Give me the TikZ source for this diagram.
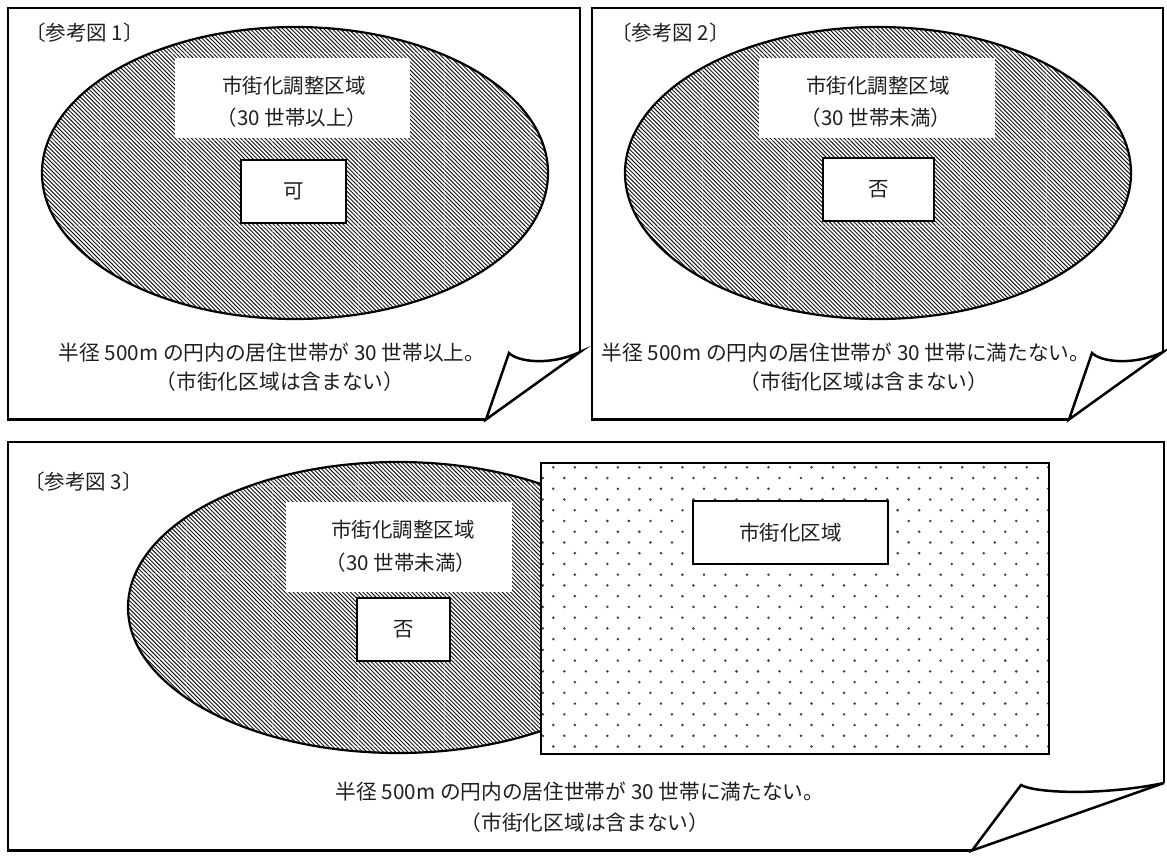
\documentclass[tikz,border=0pt]{standalone}
\usepackage{fontspec}
\setmainfont{Noto Sans CJK JP}
\newcommand\hatchellipse[4]{%
  \begin{scope}
    \clip (#1,#2) ellipse [x radius=#3pt, y radius=#4pt];
    \fill[white] (#1,#2) ellipse [x radius=#3pt, y radius=#4pt];
    \pgfmathtruncatemacro\hn{(2*#3+2*#4)/4.1+3}
    \foreach \k in {0,...,\hn} {\draw[hatchline] ({#1-#3-2*#4+\k*4.1-4},{#2-#4-2}) -- ++({2*#4+4},{2*#4+4});}
    \foreach \gx in {14,100,...,1160} {\draw[seam] (\gx,{#2-#4}) -- (\gx,{#2+#4});}
    \foreach \gy in {54,140.5,...,830} {\draw[seam] ({#1-#3},\gy) -- ({#1+#3},\gy);}
  \end{scope}
  \draw[ell] (#1,#2) ellipse [x radius=#3pt, y radius=#4pt];
}
\begin{document}
\begin{tikzpicture}[x=1pt,y=-1pt,
  frame/.style={line width=2.8pt, line join=miter, line cap=butt},
  curl/.style={line width=2.5pt, line join=miter},
  ell/.style={line width=2.2pt},
  hatchline/.style={line width=0.95pt, black!90},
  seam/.style={white, opacity=0.3, line width=1pt},
  wbox/.style={fill=white, draw=none, inner sep=0pt},
  sbox/.style={draw=black, line width=1.3pt, fill=white, inner sep=0pt},
  btxt/.style={font=\fontsize{20.5}{24}\selectfont, text=black!88, inner sep=0pt},
  ltxt/.style={font=\fontsize{20.7}{26}\selectfont, text=black!88, inner sep=0pt},
  dotc/.style={fill=black!75}]
\useasboundingbox (0,0) rectangle (1167,861);
\fill[white] (0,0) rectangle (1167,861);

% ---------- Panel 1 ----------
\hatchellipse{295}{173}{253}{146}
\node[wbox, minimum width=235pt, minimum height=80pt] (p1wb) at (292.5,98) {};
\node[btxt] (p1l1) at (294,86) {市街化調整区域};
\node[btxt] (p1l2) at (292,118) {（30 世帯以上）};
\node[sbox, minimum width=105pt, minimum height=63pt, btxt] (p1ok) at (293.5,191.5) {可};
\node[btxt, anchor=west] (p1t) at (25,33) {〔参考図 1〕};
\node[ltxt] (p1b1) at (272,353) {半径 500m の円内の居住世帯が 30 世帯以上。};
\node[ltxt] (p1b2) at (280,382) {（市街化区域は含まない）};
\coordinate (p1bl) at (486,419.5);
\coordinate (p1cr) at (580,352);
\coordinate (p1tip) at (509,353);
\draw[frame] (p1bl) -- (8,419.5) -- (8,8) -- (580,8) -- (p1cr);
\draw[curl] (p1cr) .. controls (550,366) and (518,362) .. (p1tip) -- (p1bl) -- cycle;

% ---------- Panel 2 ----------
\hatchellipse{878}{173}{253}{146}
\node[wbox, minimum width=236pt, minimum height=80pt] (p2wb) at (877,98) {};
\node[btxt] (p2l1) at (878,86) {市街化調整区域};
\node[btxt] (p2l2) at (876,118) {（30 世帯未満）};
\node[sbox, minimum width=111pt, minimum height=63pt, btxt] (p2ng) at (878.5,189.5) {否};
\node[btxt, anchor=west] (p2t) at (611,33) {〔参考図 2〕};
\node[ltxt] (p2b1) at (846,353) {半径 500m の円内の居住世帯が 30 世帯に満たない。};
\node[ltxt] (p2b2) at (864,382) {（市街化区域は含まない）};
\coordinate (p2bl) at (1069,419.5);
\coordinate (p2cr) at (1163,352);
\coordinate (p2tip) at (1092,353);
\draw[frame] (p2bl) -- (592,419.5) -- (592,8) -- (1163,8) -- (p2cr);
\draw[curl] (p2cr) .. controls (1133,366) and (1101,362) .. (p2tip) -- (p2bl) -- cycle;

% ---------- Panel 3 ----------
\hatchellipse{398}{607.5}{270}{145.5}
\node[wbox, minimum width=226pt, minimum height=90pt] (p3wb) at (399,547) {};
\node[btxt] (p3l1) at (403,530) {市街化調整区域};
\node[btxt] (p3l2) at (401,563) {（30 世帯未満）};
\node[sbox, minimum width=93pt, minimum height=63pt, btxt] (p3ng) at (403.5,629.5) {否};
% dotted rectangle
\fill[white] (541,463) rectangle (1049,754);
\begin{scope}
  \clip (541,463) rectangle (1049,754);
  \foreach \r in {0,...,26} {
    \pgfmathsetmacro\yy{467.3+\r*10.74}
    \pgfmathsetmacro\xo{553.3-10.5*mod(\r,2)}
    \foreach \c in {0,...,24} {\fill[dotc] ({\xo+\c*21.52},\yy) circle [radius=1.4pt];}
  }
\end{scope}
\draw[line width=2.6pt] (541,463) rectangle (1049,754);
\node[sbox, minimum width=195pt, minimum height=63pt, btxt] (p3urb) at (790.5,532.5) {市街化区域};
\node[btxt, anchor=west] (p3t) at (24,482) {〔参考図 3〕};
\node[ltxt] (p3b1) at (580,792) {半径 500m の円内の居住世帯が 30 世帯に満たない。};
\node[ltxt] (p3b2) at (585,823) {（市街化区域は含まない）};
\coordinate (p3bl) at (972,850.5);
\coordinate (p3cr) at (1164,783);
\coordinate (p3tip) at (1021,785);
\draw[frame] (p3bl) -- (8,850.5) -- (8,442) -- (1164,442) -- (p3cr);
\draw[curl] (p3cr) .. controls (1100,796) and (1035,793) .. (p3tip) -- (p3bl) -- cycle;
\end{tikzpicture}
\end{document}
